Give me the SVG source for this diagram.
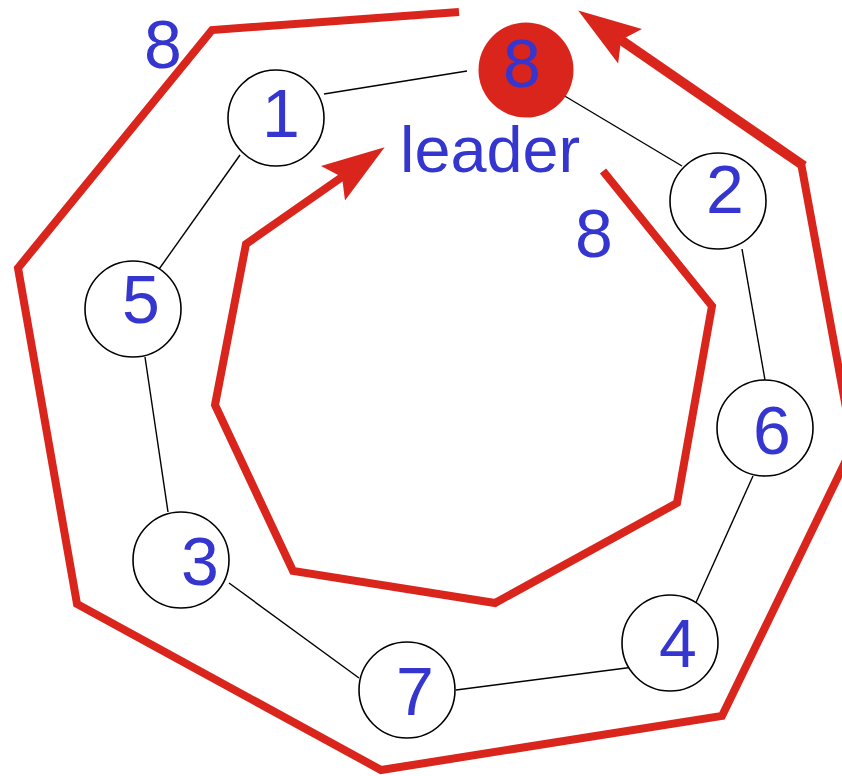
<svg xmlns="http://www.w3.org/2000/svg" width="842" height="776" viewBox="0 0 842 776">
<style>
.node{fill:#fff;stroke:#000;stroke-width:1.6}
.leader{fill:#DA251D;stroke:none}
.edge{stroke:#000;stroke-width:1.4;fill:none}
.route{stroke:#DA251D;stroke-width:8;fill:none;stroke-linejoin:miter}
.num{font-family:"Liberation Sans",Arial,sans-serif;font-size:68px;fill:#3535CF;text-anchor:middle}
.lbl{font-family:"Liberation Sans",Arial,sans-serif;font-size:64px;fill:#3535CF}
</style>
<defs>
<marker id="ah" markerUnits="userSpaceOnUse" orient="auto" refX="0" refY="0" markerWidth="80" markerHeight="60" overflow="visible">
<path d="M52,0 L-11,-21 L0,0 L-11,21 Z" fill="#DA251D"/>
</marker>
</defs>
<rect width="842" height="776" fill="#fff"/>
<g id="connectors">
<line class="edge" x1="324" y1="94" x2="467" y2="71"/>
<line class="edge" x1="563" y1="95" x2="682" y2="166"/>
<line class="edge" x1="240" y1="155" x2="157" y2="272"/>
<line class="edge" x1="742" y1="249" x2="765" y2="380"/>
<line class="edge" x1="145" y1="357" x2="168" y2="512"/>
<line class="edge" x1="229" y1="583" x2="359" y2="678"/>
<line class="edge" x1="456" y1="690" x2="634" y2="667"/>
<line class="edge" x1="753" y1="476" x2="694" y2="607"/>
<path class="route" d="M459,12 L212,30 L18,268 L77,604 L381,770 L722,716 L853,446 L801,163"/>
<path class="route" style="stroke-width:10" d="M804,166 L621,40" marker-end="url(#ah)"/>
<path class="route" d="M603,171 L712,306 L677,503 L495,603 L293,571 L215,405 L246,244 L342,177" marker-end="url(#ah)"/>
</g>
<g id="node-8"><circle class="leader" cx="526" cy="70" r="47.5"/><text class="num" x="522" y="87">8</text></g>
<g id="node-1"><circle class="node" cx="276" cy="118" r="48"/><text class="num" x="281" y="137">1</text></g>
<g id="node-2"><circle class="node" cx="718" cy="201" r="48"/><text class="num" x="725" y="213">2</text></g>
<g id="node-5"><circle class="node" cx="133" cy="309" r="48"/><text class="num" x="141" y="323">5</text></g>
<g id="node-6"><circle class="node" cx="765" cy="428" r="48"/><text class="num" x="772" y="454">6</text></g>
<g id="node-3"><circle class="node" cx="181" cy="560" r="48"/><text class="num" x="200" y="585">3</text></g>
<g id="node-4"><circle class="node" cx="670" cy="643" r="48"/><text class="num" x="678" y="667">4</text></g>
<g id="node-7"><circle class="node" cx="407" cy="690" r="48"/><text class="num" x="415" y="715">7</text></g>
<g id="labels">
<text class="num" x="163" y="68">8</text>
<text class="num" x="594" y="257">8</text>
<text class="lbl" x="400" y="172" textLength="180" lengthAdjust="spacingAndGlyphs">leader</text>
</g>
</svg>
